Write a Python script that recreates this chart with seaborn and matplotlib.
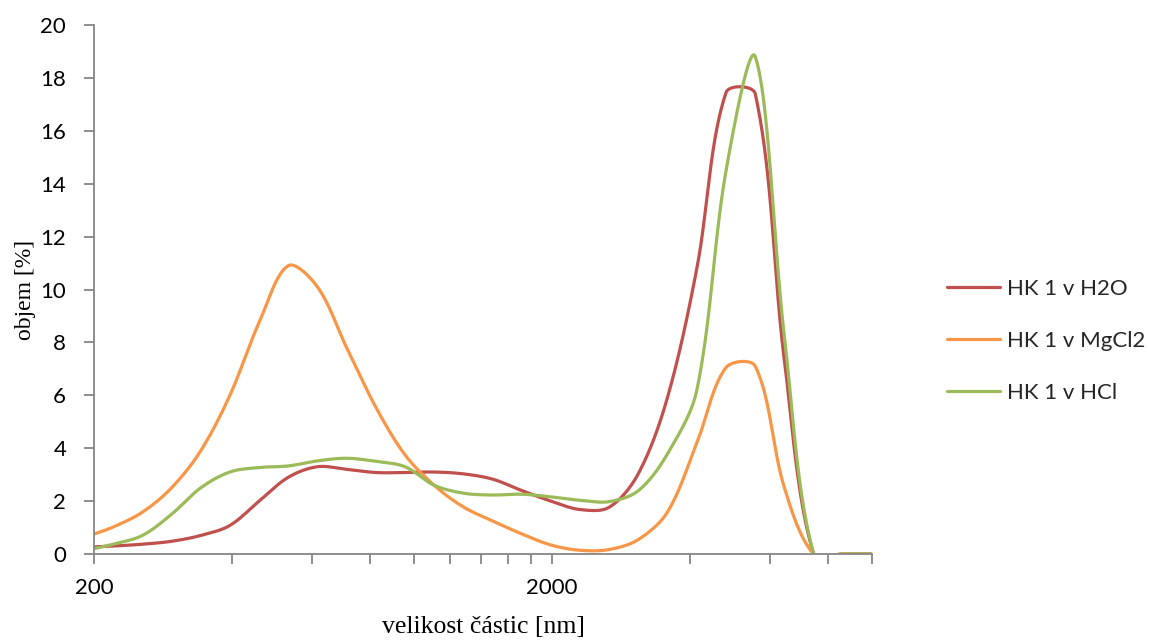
import numpy as np
import pandas as pd
import matplotlib
matplotlib.use("Agg")
import matplotlib.pyplot as plt
import seaborn as sns

# ---- data ----
sizes_nm = [190.1, 220.2, 255.0, 295.3, 342.0, 396.1, 458.7, 531.2, 615.1, 712.4,
            825.0, 955.4, 1106, 1281, 1484, 1718, 1990, 2305, 2669, 3091,
            3580, 4145, 4801, 5560, 6439, 7456, 8635, 10000]

hk_h2o = [0.25, 0.30, 0.37, 0.48, 0.70, 1.08, 2.00, 2.90, 3.30, 3.20,
          3.08, 3.08, 3.10, 3.03, 2.83, 2.40, 2.00, 1.68, 1.77, 3.05,
          5.95, 10.8, 17.45, 17.4, 7.3, 0.0, 0.0, 0.0]

hk_mgcl2 = [0.62, 1.02, 1.58, 2.50, 3.90, 6.00, 8.75, 10.9, 10.1, 7.80,
            5.55, 3.75, 2.60, 1.78, 1.25, 0.76, 0.34, 0.14, 0.17, 0.55,
            1.60, 4.20, 7.05, 7.10, 2.50, 0.0, 0.0, 0.0]

hk_hcl = [0.12, 0.37, 0.70, 1.50, 2.50, 3.10, 3.27, 3.33, 3.52, 3.62,
          3.50, 3.30, 2.60, 2.30, 2.23, 2.26, 2.16, 2.03, 1.98, 2.40,
          3.80, 6.20, 14.5, 18.8, 8.2, 0.0, 0.0, 0.0]

series_names = ["HK 1 v H2O", "HK 1 v MgCl2", "HK 1 v HCl"]
series_vals = [hk_h2o, hk_mgcl2, hk_hcl]
colors = ["#C0504D", "#F79646", "#9BBB59"]

x_major = [200, 2000]
x_minor = [400, 600, 800, 1000, 1200, 1400, 1600, 1800, 4000, 6000, 8000, 10000]
y_ticks = list(range(0, 21, 2))

# ---- figure ----
sns.set_theme(style="white")
plt.rcParams['font.family'] = ['Lato', 'DejaVu Sans']

fig = plt.figure(figsize=(11.5, 6.42), dpi=100)
ax = fig.add_axes([94/1150, 1-554/642, (872-94)/1150, (554-25)/642])
ax.set_xscale("log")
ax.set_xlim(200, 10000)
ax.set_ylim(0, 20)


def excel_smooth(ax, xs, ys, n=40):
    """Excel-like smoothed line: cubic Bezier through the points in display space."""
    pts = ax.transData.transform(np.column_stack([xs, ys]))
    N = len(pts)
    out = []
    t = np.linspace(0, 1, n)[:, None]
    for i in range(N - 1):
        p1, p2 = pts[i], pts[i + 1]
        p0 = pts[i - 1] if i > 0 else p1
        p3 = pts[i + 2] if i + 2 < N else p2
        d01 = np.linalg.norm(p1 - p0)
        d12 = np.linalg.norm(p2 - p1)
        d23 = np.linalg.norm(p3 - p2)
        b1 = p1 + (p2 - p0) * (d12 / (3 * (d01 + d12)) if d01 + d12 > 0 else 0)
        b2 = p2 - (p3 - p1) * (d12 / (3 * (d12 + d23)) if d12 + d23 > 0 else 0)
        seg = ((1 - t) ** 3) * p1 + 3 * ((1 - t) ** 2) * t * b1 + 3 * (1 - t) * (t ** 2) * b2 + (t ** 3) * p2
        out.append(seg if i == 0 else seg[1:])
    disp = np.vstack(out)
    return ax.transData.inverted().transform(disp)


frames = []
for name, vals in zip(series_names, series_vals):
    curve = excel_smooth(ax, sizes_nm, vals)
    frames.append(pd.DataFrame({"size": curve[:, 0], "objem": curve[:, 1],
                                "serie": name}))
df = pd.concat(frames, ignore_index=True)

sns.lineplot(data=df, x="size", y="objem", hue="serie", hue_order=series_names,
             palette=colors, sort=False, estimator=None, linewidth=2.3, ax=ax,
             legend=True)

ax.set_xlim(200, 10000)
ax.set_ylim(0, 20)

# axes styling (Excel-like)
spine_col = "#868686"
for s in ["top", "right"]:
    ax.spines[s].set_visible(False)
for s in ["left", "bottom"]:
    ax.spines[s].set_color(spine_col)
    ax.spines[s].set_linewidth(1.3)

ax.set_xticks(x_major)
ax.set_xticklabels([str(v) for v in x_major])
ax.set_xticks(x_minor, minor=True)
ax.xaxis.set_minor_formatter(matplotlib.ticker.NullFormatter())
ax.set_yticks(y_ticks)
ax.set_yticklabels([str(v) for v in y_ticks])

ax.tick_params(axis="both", which="both", direction="out", color=spine_col,
               width=1.3, labelsize=16, labelcolor="black")
ax.tick_params(axis="x", which="both", length=7, pad=10, bottom=True)
ax.tick_params(axis="y", which="major", length=7, pad=13, left=True)

ax.set_xlabel("velikost částic [nm]", family="Liberation Serif", fontsize=18.5,
              color="black", va="top")
ax.xaxis.set_label_coords(0.5, -0.117)
ax.set_ylabel("objem [%]", family="Liberation Serif", fontsize=17,
              color="black")
ax.yaxis.set_label_coords(-0.074, 0.5)

handles, labels = ax.get_legend_handles_labels()
leg = ax.legend(handles, labels, loc="center left", bbox_to_anchor=(1.096, 0.4026),
                frameon=False, fontsize=16, handlelength=2.4, handletextpad=0.32,
                labelspacing=1.45, borderpad=0, borderaxespad=0)
for h in leg.get_lines():
    h.set_linewidth(2.3)

ax.grid(False)
fig.savefig("out.png", dpi=100)
